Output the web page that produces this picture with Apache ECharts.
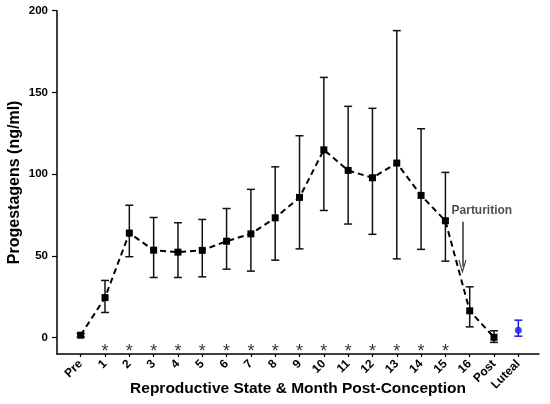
<!DOCTYPE html>
<html>
<head>
<meta charset="utf-8">
<script src="https://cdn.jsdelivr.net/npm/echarts@6/dist/echarts.min.js"></script>
<style>html,body{margin:0;padding:0;background:#fff}#c{width:550px;height:404px}</style>
</head>
<body>
<div id="c"></div>
<script>
var categories = ['Pre','1','2','3','4','5','6','7','8','9','10','11','12','13','14','15','16','Post','Luteal'];
var means = [1.5, 24.5, 64, 53.5, 52.3, 53.4, 59, 63.5, 73.3, 85.8, 114.9, 102.3, 97.8, 106.8, 87, 71.5, 16.4, 0.2];
var upper = [2.5, 35, 81, 73.5, 70.3, 72.3, 79, 90.7, 104.5, 123.5, 159.2, 141.5, 140.3, 187.8, 127.8, 101.1, 31.1, 4.2];
var lower = [0.5, 15.4, 49.5, 36.8, 36.8, 37.2, 41.9, 40.7, 47.4, 54.3, 77.8, 69.5, 63.2, 48.2, 54, 46.8, 6.6, -2.9];
var lutealMean = 4.6, lutealUpper = 10.7, lutealLower = 0.9;
var asteriskCats = ['1','2','3','4','5','6','7','8','9','10','11','12','13','14','15'];
var yTicks = [0, 50, 100, 150, 200];

var lutealIdx = categories.indexOf('Luteal');
var lineData = means.map(function(v, i){ return [i, v]; });
var errData = means.map(function(v, i){ return [i, lower[i], upper[i]]; });
var lutealErr = [[lutealIdx, lutealLower, lutealUpper]];
var starData = asteriskCats.map(function(c){ return [categories.indexOf(c), -6.6]; });
var xIdx = categories.map(function(c, i){ return i; });

function errRender(color){
  return function(params, api){
    var x = api.value(0);
    var lo = api.coord([x, api.value(1)]);
    var hi = api.coord([x, api.value(2)]);
    var w = 4;
    var st = {stroke: color, lineWidth: 1.5};
    return {type: 'group', children: [
      {type: 'line', shape: {x1: lo[0], y1: lo[1], x2: hi[0], y2: hi[1]}, style: st},
      {type: 'line', shape: {x1: hi[0]-w, y1: hi[1], x2: hi[0]+w, y2: hi[1]}, style: st},
      {type: 'line', shape: {x1: lo[0]-w, y1: lo[1], x2: lo[0]+w, y2: lo[1]}, style: st}
    ]};
  };
}

var FONT = '"Liberation Sans", Arial, sans-serif';
var chart = echarts.init(document.getElementById('c'));
chart.setOption({
  animation: false,
  textStyle: {fontFamily: FONT},
  grid: {left: 57, right: 11, top: 10.7, bottom: 50, containLabel: false, outerBoundsMode: 'none'},
  xAxis: {
    type: 'value', min: -0.975, max: 18.85,
    axisLine: {show: true, onZero: false, lineStyle: {color: '#000', width: 1.5}},
    axisTick: {show: true, customValues: xIdx, length: 3, lineStyle: {color: '#000', width: 1.2}},
    splitLine: {show: false},
    axisLabel: {
      customValues: xIdx,
      rotate: 45, margin: 8, color: '#000', fontWeight: 'bold', fontSize: 12, fontFamily: FONT,
      formatter: function(v){ var i = Math.round(v); return categories[i] || ''; }
    },
    name: 'Reproductive State & Month Post-Conception',
    nameLocation: 'middle', nameGap: 27, nameMoveOverlap: false,
    nameTextStyle: {color: '#000', fontWeight: 'bold', fontSize: 15.5, fontFamily: FONT}
  },
  yAxis: {
    type: 'value', min: -10, max: 200,
    axisLine: {show: true, onZero: false, lineStyle: {color: '#000', width: 1.5}},
    axisTick: {show: true, customValues: yTicks, length: 5, lineStyle: {color: '#000', width: 1.2}},
    splitLine: {show: false},
    axisLabel: {customValues: yTicks, margin: 9, color: '#000', fontWeight: 'bold', fontSize: 11.5, fontFamily: FONT},
    name: 'Progestagens (ng/ml)',
    nameLocation: 'middle', nameGap: 34, nameMoveOverlap: false,
    nameTextStyle: {color: '#000', fontWeight: 'bold', fontSize: 16, fontFamily: FONT}
  },
  series: [
    {
      type: 'custom', renderItem: errRender('#111'), data: errData, z: 2,
      encode: {x: 0, y: [1, 2]}
    },
    {
      type: 'custom', renderItem: errRender('#1a1ae6'), data: lutealErr, z: 2,
      encode: {x: 0, y: [1, 2]}
    },
    {
      type: 'line', data: lineData, z: 3,
      lineStyle: {color: '#000', width: 2, type: [6, 4]},
      symbol: 'rect', symbolSize: 7, showAllSymbol: true,
      itemStyle: {color: '#000'}
    },
    {
      type: 'scatter', data: [[lutealIdx, lutealMean]], z: 3,
      symbol: 'circle', symbolSize: 7, itemStyle: {color: '#1a1ae6'}
    },
    {
      type: 'scatter', data: starData, symbolSize: 1, itemStyle: {color: 'rgba(0,0,0,0)'},
      label: {show: true, position: 'inside', formatter: '*', color: '#000', fontSize: 18, fontFamily: FONT, offset: [0, 3.5]}
    },
    {
      type: 'scatter', data: [[16.5, 77.6]], symbolSize: 1, itemStyle: {color: 'rgba(0,0,0,0)'},
      label: {show: true, position: 'inside', formatter: 'Parturition', color: '#222', fontSize: 12, fontWeight: 'bold', fontFamily: FONT},
      markLine: {
        silent: true, animation: false,
        symbol: ['none', 'path://M0,0 L-5,12 L-3.8,12.4 L0,3.5 L3.8,12.4 L5,12 Z'],
        symbolSize: [8, 14],
        label: {show: false},
        lineStyle: {color: '#333', width: 1.5, type: 'solid'},
        data: [[{coord: [15.7, 70.9]}, {coord: [15.7, 43.3]}]]
      }
    }
  ]
});
</script>
</body>
</html>
